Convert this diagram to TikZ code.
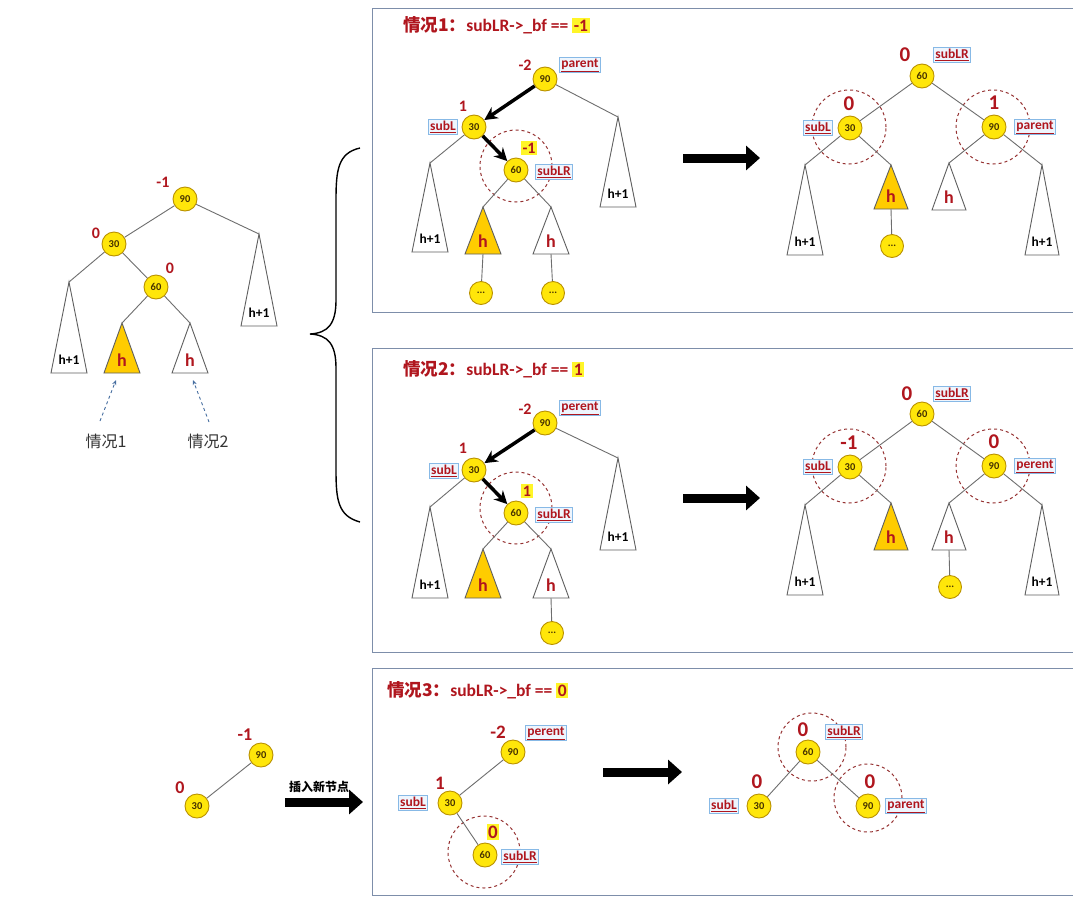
\documentclass[tikz,border=0pt]{standalone}
\usepackage{fontspec}
\setmainfont{Carlito}
\newfontfamily\cjk{Noto Sans CJK SC}
\usetikzlibrary{arrows.meta,calc}
\definecolor{bfred}{RGB}{176,22,30}
\definecolor{nodefill}{RGB}{255,230,10}
\definecolor{nodeline}{RGB}{185,145,0}
\definecolor{trifill}{RGB}{255,204,0}
\definecolor{triline}{RGB}{95,95,95}
\definecolor{edgecol}{RGB}{110,110,110}
\definecolor{boxline}{RGB}{125,142,170}
\definecolor{tagline}{RGB}{135,185,230}
\definecolor{tagfill}{RGB}{238,245,253}
\definecolor{ringcol}{RGB}{150,50,50}
\definecolor{hlyellow}{RGB}{255,245,40}
\definecolor{dashblue}{RGB}{70,110,160}
\definecolor{numcol}{RGB}{70,50,0}
\newcommand\stree[6]{%
  \coordinate (#1) at (#2);
  \draw[tri,fill=#5] (#1) -- ++(-#4,#3) -- ++(2*#4,0) -- cycle;
  \coordinate (#1b) at ($(#1)+(0,#3)$);
  \node[trilab] (#1t) at ($(#1)+(0,#3-13)$) {#6};
}
\newcommand\hh{\textcolor{bfred}{\fontsize{18}{18}\selectfont h}}
\tikzset{
  tn/.style={circle,draw=nodeline,line width=0.9pt,fill=nodefill,minimum size=24pt,inner sep=0pt,
    text=numcol,font=\fontsize{10.5}{10.5}\selectfont\bfseries},
  dotn/.style={tn,minimum size=23pt},
  bfl/.style={text=bfred,inner sep=1pt,font=\fontsize{16}{16}\selectfont\bfseries},
  bfbig/.style={text=bfred,inner sep=1pt,font=\fontsize{21}{21}\selectfont\bfseries},
  bfhl/.style={bfl,fill=hlyellow,inner sep=1.5pt},
  tag/.style={draw=tagline,fill=tagfill,line width=0.9pt,text=bfred,inner sep=1.5pt,
    font=\fontsize{13.5}{13.5}\selectfont\bfseries},
  tri/.style={draw=triline,line width=0.9pt},
  trilab/.style={inner sep=0pt,font=\fontsize{13.5}{13.5}\selectfont\bfseries},
  edge/.style={draw=edgecol,line width=0.9pt},
  thick arr/.style={draw=black,line width=3.5pt,-{Stealth[length=13pt,width=13pt]}},
  big arr/.style={draw=black,line width=9pt,-{Triangle[length=14pt,width=24pt]}},
  ring/.style={draw=ringcol,dashed,line width=1pt,circle,inner sep=0pt},
  casebox/.style={draw=boxline,line width=1pt},
  title/.style={anchor=west,text=bfred,inner sep=0pt,font=\fontsize{17.5}{17.5}\selectfont\bfseries},
  cn/.style={text=black!80,inner sep=0pt,font=\fontsize{16}{16}\selectfont},
  dash arr/.style={draw=dashblue,dashed,line width=0.9pt,-{Stealth[length=5pt,width=4pt]}},
}
\newcommand\tg[1]{\underline{#1}}
\newcommand\hl[1]{{\setlength{\fboxsep}{1.5pt}\colorbox{hlyellow}{#1}}}
\begin{document}
\begin{tikzpicture}[x=1pt,y=-1pt]
\clip (0,0) rectangle (1073,900);
\fill[white] (0,0) rectangle (1073,900);

% ---------- boxes ----------
\draw[casebox] (372,8) rectangle (1090,312);
\draw[casebox] (372,348) rectangle (1090,652);
\draw[casebox] (372,668) rectangle (1090,895);

% ---------- brace ----------
\draw[line width=1.4pt] (360,148) .. controls (338,153) and (336,170) .. (336,200) -- (336,300)
  .. controls (336,324) and (328,333) .. (310,334) .. controls (328,335) and (336,344) .. (336,368)
  -- (336,470) .. controls (336,500) and (338,516) .. (360,522);

% ---------- left tree ----------
\node[tn] (L90) at (185,199) {90};
\node[tn] (L30) at (114,244) {30};
\node[tn] (L60) at (156,287) {60};
\node[bfl] (Lb90) at (163,182) {-1};
\node[bfl] (Lb30) at (96,233) {0};
\node[bfl] (Lb60) at (170,268) {0};
\stree{Lr}{259,234}{92}{18}{white}{h+1}
\stree{Ll}{69,282}{91}{18}{white}{h+1}
\stree{Ly}{122,323}{50}{18}{trifill}{\hh}
\stree{Lw}{190,323}{50}{18}{white}{\hh}
\draw[edge] (L90) -- (L30);
\draw[edge] (L90) -- (Lr);
\draw[edge] (L30) -- (Ll);
\draw[edge] (L30) -- (L60);
\draw[edge] (L60) -- (Ly);
\draw[edge] (L60) -- (Lw);
\node[cn] (C1) at (106,441) {\cjk 情况1};
\node[cn] (C2) at (208,441) {\cjk 情况2};
\coordinate (q1) at (100,421);
\coordinate (q1e) at (116,380);
\coordinate (q2) at (209,422);
\coordinate (q2e) at (193,380);
\draw[dash arr] (q1) -- (q1e);
\draw[dash arr] (q2) -- (q2e);

% ---------- case 1 ----------
\node[title] (T1) at (403,25) {{\cjk 情况1：}subLR->\_bf == \hl{-1}};
\node[tn] (A90) at (545,79) {90};
\node[tn] (A30) at (474,127) {30};
\node[tn] (A60) at (516,170) {60};
\node[ring,minimum size=72pt] (Ar) at (516,166) {};
\node[bfl] (Ab90) at (525,65) {-2};
\node[bfl] (Ab30) at (463,106) {1};
\node[bfhl] (Ab60) at (529,148) {-1};
\node[tag] (At90) at (580,65) {\tg{parent}};
\node[tag] (At30) at (443,127) {\tg{subL}};
\node[tag] (At60) at (554,172) {\tg{subLR}};
\stree{Ar1}{618,117}{90}{18}{white}{h+1}
\stree{Al1}{430,163}{89}{18}{white}{h+1}
\stree{Ay1}{483,207}{47}{18}{trifill}{\hh}
\stree{Aw1}{551,207}{47}{18}{white}{\hh}
\node[dotn] (Ad1) at (481,293) {...};
\node[dotn] (Ad2) at (553,293) {...};
\draw[thick arr] (A90) -- (A30);
\draw[thick arr] (A30) -- (A60);
\draw[edge] (A90) -- (Ar1);
\draw[edge] (A30) -- (Al1);
\draw[edge] (A60) -- (Ay1);
\draw[edge] (A60) -- (Aw1);
\draw[edge] (Ay1b) -- (Ad1);
\draw[edge] (Aw1b) -- (Ad2);
\coordinate (G1s) at (683,158);
\coordinate (G1e) at (760,158);
\draw[big arr] (G1s) -- (G1e);

\node[tn] (B60) at (922,76) {60};
\node[tn] (B30) at (850,128) {30};
\node[tn] (B90) at (994,127) {90};
\node[ring,minimum size=74pt] (Br30) at (849,127) {};
\node[ring,minimum size=74pt] (Br90) at (993,127) {};
\node[bfbig] (Bb60) at (905,55) {0};
\node[bfbig] (Bb30) at (849,104) {0};
\node[bfbig] (Bb90) at (994,103) {1};
\node[tag] (Bt60) at (952,55) {\tg{subLR}};
\node[tag] (Bt30) at (818,128) {\tg{subL}};
\node[tag] (Bt90) at (1035,127) {\tg{parent}};
\stree{Bs1}{805,165}{90}{18}{white}{h+1}
\stree{Bs2}{891,165}{44}{17}{trifill}{\hh}
\stree{Bs3}{949,163}{47}{17}{white}{\hh}
\stree{Bs4}{1042,165}{90}{17}{white}{h+1}
\node[dotn] (Bd1) at (892,246) {...};
\draw[edge] (B60) -- (B30);
\draw[edge] (B60) -- (B90);
\draw[edge] (B30) -- (Bs1);
\draw[edge] (B30) -- (Bs2);
\draw[edge] (B90) -- (Bs3);
\draw[edge] (B90) -- (Bs4);
\draw[edge] (Bs2b) -- (Bd1);

% ---------- case 2 ----------
\node[title] (T2) at (403,369) {{\cjk 情况2：}subLR->\_bf == \hl{1}};
\node[tn] (D90) at (545,423) {90};
\node[tn] (D30) at (474,470) {30};
\node[tn] (D60) at (516,513) {60};
\node[ring,minimum size=72pt] (Dr) at (516,508) {};
\node[bfl] (Db90) at (525,409) {-2};
\node[bfl] (Db30) at (463,448) {1};
\node[bfhl] (Db60) at (527,491) {1};
\node[tag] (Dt90) at (580,408) {\tg{perent}};
\node[tag] (Dt30) at (444,471) {\tg{subL}};
\node[tag] (Dt60) at (554,515) {\tg{subLR}};
\stree{Dr1}{618,458}{92}{18}{white}{h+1}
\stree{Dl1}{430,507}{91}{18}{white}{h+1}
\stree{Dy1}{483,549}{49}{18}{trifill}{\hh}
\stree{Dw1}{551,549}{49}{18}{white}{\hh}
\node[dotn] (Dd1) at (552,633) {...};
\draw[thick arr] (D90) -- (D30);
\draw[thick arr] (D30) -- (D60);
\draw[edge] (D90) -- (Dr1);
\draw[edge] (D30) -- (Dl1);
\draw[edge] (D60) -- (Dy1);
\draw[edge] (D60) -- (Dw1);
\draw[edge] (Dw1b) -- (Dd1);
\coordinate (G2s) at (683,498);
\coordinate (G2e) at (760,498);
\draw[big arr] (G2s) -- (G2e);

\node[tn] (E60) at (922,414) {60};
\node[tn] (E30) at (850,467) {30};
\node[tn] (E90) at (994,466) {90};
\node[ring,minimum size=74pt] (Er30) at (849,466) {};
\node[ring,minimum size=74pt] (Er90) at (993,466) {};
\node[bfbig] (Eb60) at (907,394) {0};
\node[bfbig] (Eb30) at (849,443) {-1};
\node[bfbig] (Eb90) at (994,442) {0};
\node[tag] (Et60) at (952,394) {\tg{subLR}};
\node[tag] (Et30) at (818,467) {\tg{subL}};
\node[tag] (Et90) at (1035,466) {\tg{perent}};
\stree{Es1}{805,505}{90}{18}{white}{h+1}
\stree{Es2}{891,503}{47}{17}{trifill}{\hh}
\stree{Es3}{949,503}{47}{17}{white}{\hh}
\stree{Es4}{1042,505}{90}{17}{white}{h+1}
\node[dotn] (Ed1) at (950,587) {...};
\draw[edge] (E60) -- (E30);
\draw[edge] (E60) -- (E90);
\draw[edge] (E30) -- (Es1);
\draw[edge] (E30) -- (Es2);
\draw[edge] (E90) -- (Es3);
\draw[edge] (E90) -- (Es4);
\draw[edge] (Es3b) -- (Ed1);

% ---------- case 3 ----------
\node[tn] (P90) at (261,755) {90};
\node[tn] (P30) at (197,806) {30};
\node[bfl,font=\fontsize{18}{18}\selectfont\bfseries] (Pb90) at (245,735) {-1};
\node[bfl,font=\fontsize{18}{18}\selectfont\bfseries] (Pb30) at (180,788) {0};
\draw[edge] (P90) -- (P30);
\coordinate (G3s) at (285,802);
\coordinate (G3e) at (363,802);
\draw[big arr] (G3s) -- (G3e);
\node[inner sep=0pt,font=\fontsize{12}{12}\selectfont\bfseries] (ins) at (319,787) {\cjk 插入新节点};

\node[title] (T3) at (387,690) {{\cjk 情况3：}subLR->\_bf == \hl{0}};
\node[tn] (F90) at (513,752) {90};
\node[tn] (F30) at (450,803) {30};
\node[tn] (F60) at (485,855) {60};
\node[ring,minimum size=72pt] (Fr) at (484,852) {};
\node[bfl,font=\fontsize{19}{19}\selectfont\bfseries] (Fb90) at (498,732) {-2};
\node[bfl,font=\fontsize{19}{19}\selectfont\bfseries] (Fb30) at (440,783) {1};
\node[bfhl,font=\fontsize{19}{19}\selectfont\bfseries] (Fb60) at (493,832) {0};
\node[tag] (Ft90) at (546,733) {\tg{perent}};
\node[tag] (Ft30) at (413,803) {\tg{subL}};
\node[tag] (Ft60) at (520,857) {\tg{subLR}};
\draw[edge] (F90) -- (F30);
\draw[edge] (F30) -- (F60);
\coordinate (G4s) at (603,772);
\coordinate (G4e) at (682,772);
\draw[big arr] (G4s) -- (G4e);

\node[tn] (H60) at (808,752) {60};
\node[tn] (H30) at (759,806) {30};
\node[tn] (H90) at (868,806) {90};
\node[ring,minimum size=68pt] (Hr60) at (812,747) {};
\node[ring,minimum size=68pt] (Hr90) at (868,798) {};
\node[bfbig] (Hb60) at (803,730) {0};
\node[bfbig] (Hb30) at (757,782) {0};
\node[bfbig] (Hb90) at (870,782) {0};
\node[tag] (Ht60) at (844,732) {\tg{subLR}};
\node[tag] (Ht30) at (724,806) {\tg{subL}};
\node[tag] (Ht90) at (906,806) {\tg{parent}};
\draw[edge] (H60) -- (H30);
\draw[edge] (H60) -- (H90);
\end{tikzpicture}
\end{document}
